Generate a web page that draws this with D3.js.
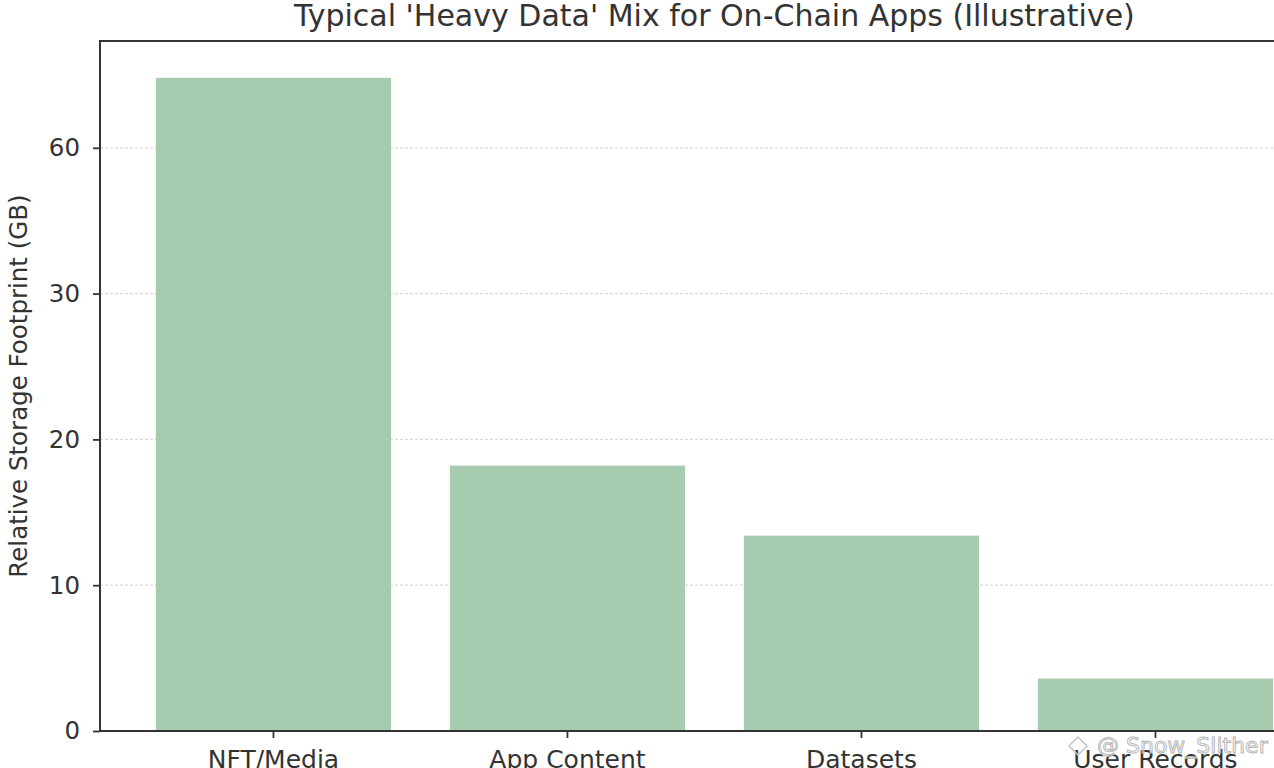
<!DOCTYPE html>
<html>
<head>
<meta charset="utf-8">
<script src="https://cdn.jsdelivr.net/npm/d3@7/dist/d3.min.js"></script>
<style>
  html, body { margin: 0; padding: 0; background: #fff; }
  svg { display: block; font-family: "DejaVu Sans", sans-serif; }
</style>
</head>
<body>
<svg id="chart" width="1274" height="768"></svg>
<script>
// ---- data ----
const categories = ["NFT/Media", "App Content", "Datasets", "User Records"];
const values = [74.4, 18.2, 13.4, 3.6];
const yTicks = [0, 10, 20, 30, 60];
const yTickLabels = ["0", "10", "20", "30", "60"];
const titleText = "Typical 'Heavy Data' Mix for On-Chain Apps (Illustrative)";
const yLabelText = "Relative Storage Footprint (GB)";
const watermarkText = "@ Snow_Slither";

// ---- layout ----
const W = 1274, H = 768;
const plotLeft = 100, plotTop = 41, plotBottom = 731;
const step = 294;             // px per category
const plotRight = plotLeft + step * 4.18;
const tickStep = 145.8;       // px between y ticks

const svg = d3.select("#chart");
const ink = "#333";

// x scale (band with matplotlib-like margins)
const x = d3.scaleBand()
  .domain(categories)
  .range([plotLeft + step * 0.09, plotRight - step * 0.09])
  .paddingInner(0.2)
  .paddingOuter(0.1);

// y scale: equal spacing between the labelled ticks (piecewise linear)
const y = d3.scaleLinear()
  .domain(yTicks)
  .range(yTicks.map((d, i) => plotBottom - i * tickStep));

// grid
svg.append("g")
  .selectAll("line")
  .data(yTicks.slice(1))
  .join("line")
  .attr("x1", plotLeft).attr("x2", plotRight)
  .attr("y1", d => y(d)).attr("y2", d => y(d))
  .attr("stroke", "#dadada")
  .attr("stroke-width", 1.3)
  .attr("stroke-dasharray", "3,2");

// bars
svg.append("g")
  .selectAll("rect")
  .data(categories.map((c, i) => ({ c, v: values[i] })))
  .join("rect")
  .attr("x", d => x(d.c))
  .attr("width", x.bandwidth())
  .attr("y", d => y(d.v))
  .attr("height", d => y(0) - y(d.v))
  .attr("fill", "#a6cbae");

// y axis
const yAxis = svg.append("g")
  .attr("transform", `translate(${plotLeft},0)`)
  .call(d3.axisLeft(y).tickValues(yTicks)
    .tickFormat((d, i) => yTickLabels[i])
    .tickSize(7).tickPadding(13));
yAxis.select(".domain").remove();
yAxis.selectAll(".tick line").attr("stroke", ink).attr("stroke-width", 1.8);
yAxis.selectAll(".tick text").attr("fill", ink).attr("font-size", 24.5)
  .attr("font-family", "DejaVu Sans, sans-serif");

// x axis
const xAxis = svg.append("g")
  .attr("transform", `translate(0,${plotBottom})`)
  .call(d3.axisBottom(x).tickSize(7).tickPadding(12));
xAxis.select(".domain").remove();
xAxis.selectAll(".tick line").attr("stroke", ink).attr("stroke-width", 1.8);
xAxis.selectAll(".tick text").attr("fill", ink).attr("font-size", 25)
  .attr("font-family", "DejaVu Sans, sans-serif");

// spines
svg.append("rect")
  .attr("x", plotLeft).attr("y", plotTop)
  .attr("width", plotRight - plotLeft).attr("height", plotBottom - plotTop)
  .attr("fill", "none")
  .attr("stroke", ink)
  .attr("stroke-width", 2);

// title
svg.append("text")
  .attr("x", (plotLeft + plotRight) / 2)
  .attr("y", 26)
  .attr("text-anchor", "middle")
  .attr("font-size", 30)
  .attr("fill", ink)
  .text(titleText);

// y label
svg.append("text")
  .attr("transform", `translate(27,${(plotTop + plotBottom) / 2}) rotate(-90)`)
  .attr("text-anchor", "middle")
  .attr("font-size", 24.5)
  .attr("fill", ink)
  .text(yLabelText);

// watermark
const wm = svg.append("g").attr("transform", "translate(1066,753)");
wm.append("path")
  .attr("d", "M12,-16 L21,-7 L12,2 L3,-7 Z")
  .attr("fill", "none").attr("stroke", "#c4c4c4").attr("stroke-width", 1.5);
wm.append("text")
  .attr("x", 31).attr("y", 0)
  .attr("font-size", 22)
  .attr("fill", "rgba(255,255,255,0.55)")
  .attr("stroke", "#b8b8b8").attr("stroke-width", 1)
  .text(watermarkText);
</script>
</body>
</html>
